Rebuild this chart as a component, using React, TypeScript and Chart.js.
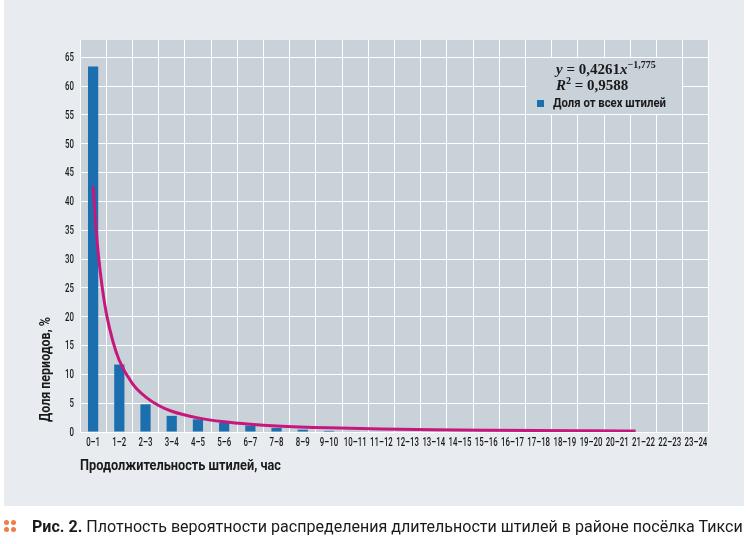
import React, { useEffect, useRef } from "react";
import { Chart, registerables } from "chart.js";

Chart.register(...registerables);

const categories = [
  "0–1", "1–2", "2–3", "3–4", "4–5", "5–6", "6–7", "7–8", "8–9", "9–10",
  "10–11", "11–12", "12–13", "13–14", "14–15", "15–16", "16–17", "17–18",
  "18–19", "19–20", "20–21", "21–22", "22–23", "23–24",
];
const shareValues = [
  63.4, 11.7, 4.8, 2.8, 2.2, 1.6, 1.1, 0.7, 0.4, 0.2, 0.1, 0, 0, 0, 0, 0, 0, 0,
  0, 0, 0, 0, 0, 0,
];
const trendX = [1, 1.1, 1.2, 1.35, 1.5, 1.75, 2, 2.5, 3, 3.5, 4, 5, 6, 7, 8, 10, 12, 14, 16, 18, 20, 21.7];
const trendY = [42.6, 36.0, 30.8, 25.0, 20.7, 15.8, 12.4, 8.4, 6.1, 4.6, 3.6, 2.45, 1.77, 1.35, 1.06, 0.72, 0.52, 0.39, 0.31, 0.25, 0.21, 0.18];
const yTicks = [0, 5, 10, 15, 20, 25, 30, 35, 40, 45, 50, 55, 60, 65];
const yMax = 68;

const FAMILY = "Roboto, 'Noto Sans', 'DejaVu Sans', sans-serif";
const TICK_FONT = `500 13.5px ${FAMILY}`;
const TICK_SCALE = 0.58;
const TEXT_COLOR = "#1a1a1a";
const PLOT_BG = "#c9d1d9";
const PANEL_BG = "#e8ecf0";
const BAR_COLOR = "#1b6fae";
const CURVE_COLOR = "#c7177c";

let measureCtx: CanvasRenderingContext2D | null = null;
function measure(text: string, font: string): number {
  if (!measureCtx) measureCtx = document.createElement("canvas").getContext("2d");
  if (!measureCtx) return text.length * 7;
  measureCtx.font = font;
  return measureCtx.measureText(text).width;
}

type Seg = { text: string; weight: number };

function FitText(props: {
  segments: Seg[];
  size: number;
  width: number;
  family?: string;
  lineHeight?: number;
  style?: React.CSSProperties;
}) {
  const family = props.family || FAMILY;
  const natural = props.segments.reduce(
    (s, seg) => s + measure(seg.text, `${seg.weight} ${props.size}px ${family}`),
    0
  );
  const scale = natural > 0 ? props.width / natural : 1;
  return (
    <div
      style={{
        position: "absolute",
        whiteSpace: "nowrap",
        fontFamily: family,
        fontSize: props.size,
        lineHeight: `${props.lineHeight || props.size + 4}px`,
        color: TEXT_COLOR,
        transform: `scaleX(${scale})`,
        transformOrigin: "0 50%",
        ...props.style,
      }}
    >
      {props.segments.map((s, i) => (
        <span key={i} style={{ fontWeight: s.weight }}>
          {s.text}
        </span>
      ))}
    </div>
  );
}

const plotPlugin = {
  id: "plotDecor",
  beforeDraw(chart: any) {
    const { ctx, chartArea } = chart;
    ctx.save();
    ctx.fillStyle = PLOT_BG;
    ctx.fillRect(chartArea.left, chartArea.top, chartArea.right - chartArea.left, chartArea.bottom - chartArea.top);
    ctx.restore();
  },
  beforeDatasetsDraw(chart: any) {
    // legend box: covers the grid between category boundaries 17..23 and y 55..65
    const { ctx } = chart;
    const xs = chart.scales.x;
    const ys = chart.scales.y;
    const half = (xs.getPixelForValue(1) - xs.getPixelForValue(0)) / 2;
    const x0 = xs.getPixelForValue(17) - half + 1;
    const x1 = xs.getPixelForValue(22) + half - 1;
    const y0 = ys.getPixelForValue(65) + 1;
    const y1 = ys.getPixelForValue(55) - 1;
    ctx.save();
    ctx.fillStyle = PLOT_BG;
    ctx.fillRect(x0, y0, x1 - x0, y1 - y0);
    ctx.restore();
  },
  afterDraw(chart: any) {
    const { ctx } = chart;
    const xs = chart.scales.x;
    const ys = chart.scales.y;
    ctx.save();
    ctx.fillStyle = TEXT_COLOR;
    ctx.font = TICK_FONT;
    ctx.textBaseline = "middle";
    categories.forEach((lab, i) => {
      const px = xs.getPixelForValue(i);
      ctx.save();
      ctx.translate(px, xs.top + 11);
      ctx.scale(TICK_SCALE, 1);
      ctx.textAlign = "center";
      ctx.fillText(lab, 0, 0);
      ctx.restore();
    });
    yTicks.forEach((v) => {
      const py = ys.getPixelForValue(v);
      ctx.save();
      ctx.translate(ys.right - 6, py + 0.5);
      ctx.scale(TICK_SCALE, 1);
      ctx.textAlign = "right";
      ctx.fillText(String(v), 0, 0);
      ctx.restore();
    });
    ctx.restore();
  },
};

function ChartCanvas() {
  const ref = useRef<HTMLCanvasElement | null>(null);
  useEffect(() => {
    if (!ref.current) return;
    const chart = new Chart(ref.current, {
      type: "bar",
      data: {
        labels: categories,
        datasets: [
          {
            type: "bar",
            label: "Доля от всех штилей",
            data: shareValues,
            backgroundColor: BAR_COLOR,
            xAxisID: "x",
            yAxisID: "y",
            grouped: false,
            barPercentage: 0.39,
            categoryPercentage: 1,
            order: 1,
          },
          {
            type: "line",
            label: "trend",
            data: trendX.map((x, i) => ({ x, y: trendY[i] })),
            xAxisID: "x2",
            yAxisID: "y",
            borderColor: CURVE_COLOR,
            borderWidth: 3,
            pointRadius: 0,
            cubicInterpolationMode: "monotone",
            fill: false,
            order: 0,
          },
        ],
      },
      options: {
        animation: false,
        responsive: false,
        maintainAspectRatio: false,
        layout: { padding: { left: 0, top: 40, right: 37, bottom: 0 } },
        plugins: { legend: { display: false }, tooltip: { enabled: false } },
        scales: {
          x: {
            type: "category",
            offset: true,
            grid: { color: "#ffffff", lineWidth: 1, offset: true, drawTicks: false },
            border: { display: false },
            ticks: { display: false, autoSkip: false },
            afterFit: (s: any) => {
              s.height = 112;
            },
          },
          x2: {
            type: "linear",
            axis: "x",
            position: "bottom",
            display: false,
            offset: false,
            grid: { offset: false },
            min: 0.5,
            max: 24.5,
          },
          y: {
            min: 0,
            max: yMax,
            grid: { color: "#ffffff", lineWidth: 1, drawTicks: false },
            border: { display: false },
            ticks: { display: false },
            afterBuildTicks: (s: any) => {
              s.ticks = yTicks.map((v) => ({ value: v }));
            },
            afterFit: (s: any) => {
              s.width = 80;
            },
          },
        },
      },
      plugins: [plotPlugin],
    } as any);
    return () => chart.destroy();
  }, []);
  return (
    <canvas
      ref={ref}
      width={746}
      height={544}
      style={{ position: "absolute", left: 0, top: 0, width: 746, height: 544 }}
    />
  );
}

export default function App() {
  const serif = '"Liberation Serif", "DejaVu Serif", serif';
  const supStyle: React.CSSProperties = { fontSize: 10, position: "relative", top: -6, lineHeight: 0 };
  return (
    <div style={{ position: "fixed", left: 0, top: 0, width: 746, height: 544, background: "#ffffff", overflow: "hidden" }}>
      <div style={{ position: "absolute", left: 4, top: 0, width: 740, height: 506, background: PANEL_BG }} />
      <ChartCanvas />
      {/* equation */}
      <div
        style={{
          position: "absolute",
          left: 556,
          top: 61,
          fontFamily: serif,
          fontWeight: "bold",
          fontSize: 15,
          lineHeight: "16px",
          color: TEXT_COLOR,
          whiteSpace: "nowrap",
        }}
      >
        <i>y</i> = 0,4261<i>x</i>
        <span style={supStyle}>−1,775</span>
      </div>
      <div
        style={{
          position: "absolute",
          left: 556,
          top: 77,
          fontFamily: serif,
          fontWeight: "bold",
          fontSize: 15,
          lineHeight: "16px",
          color: TEXT_COLOR,
          whiteSpace: "nowrap",
        }}
      >
        <i>R</i>
        <span style={supStyle}>2</span> = 0,9588
      </div>
      {/* legend */}
      <div style={{ position: "absolute", left: 537, top: 100, width: 7, height: 7, background: BAR_COLOR }} />
      <FitText
        segments={[{ text: "Доля от всех штилей", weight: 700 }]}
        size={12}
        width={113}
        lineHeight={14}
        style={{ left: 553, top: 96 }}
      />
      {/* y title */}
      <div
        style={{
          position: "absolute",
          left: 0,
          top: 0,
          transform: "translate(45px, 422px) rotate(-90deg)",
          transformOrigin: "0 0",
        }}
      >
        <FitText
          segments={[{ text: "Доля периодов, %", weight: 700 }]}
          size={14}
          width={105}
          lineHeight={16}
          style={{ left: 0, top: -8 }}
        />
      </div>
      {/* x title */}
      <FitText
        segments={[{ text: "Продолжительность штилей, час", weight: 700 }]}
        size={14}
        width={201}
        lineHeight={16}
        style={{ left: 80, top: 457 }}
      />
      {/* caption */}
      <div style={{ position: "absolute", left: 4, top: 520 }}>
        {[0, 1].map((r) =>
          [0, 1].map((c) => (
            <div
              key={`${r}-${c}`}
              style={{
                position: "absolute",
                left: c * 7,
                top: r * 7,
                width: 5,
                height: 5,
                borderRadius: "50%",
                background: "#ef7d4a",
              }}
            />
          ))
        )}
      </div>
      <FitText
        segments={[
          { text: "Рис. 2.", weight: 700 },
          { text: " Плотность вероятности распределения длительности штилей в районе посёлка Тикси", weight: 400 },
        ]}
        size={17}
        width={711}
        lineHeight={20}
        style={{ left: 32, top: 516 }}
      />
    </div>
  );
}
